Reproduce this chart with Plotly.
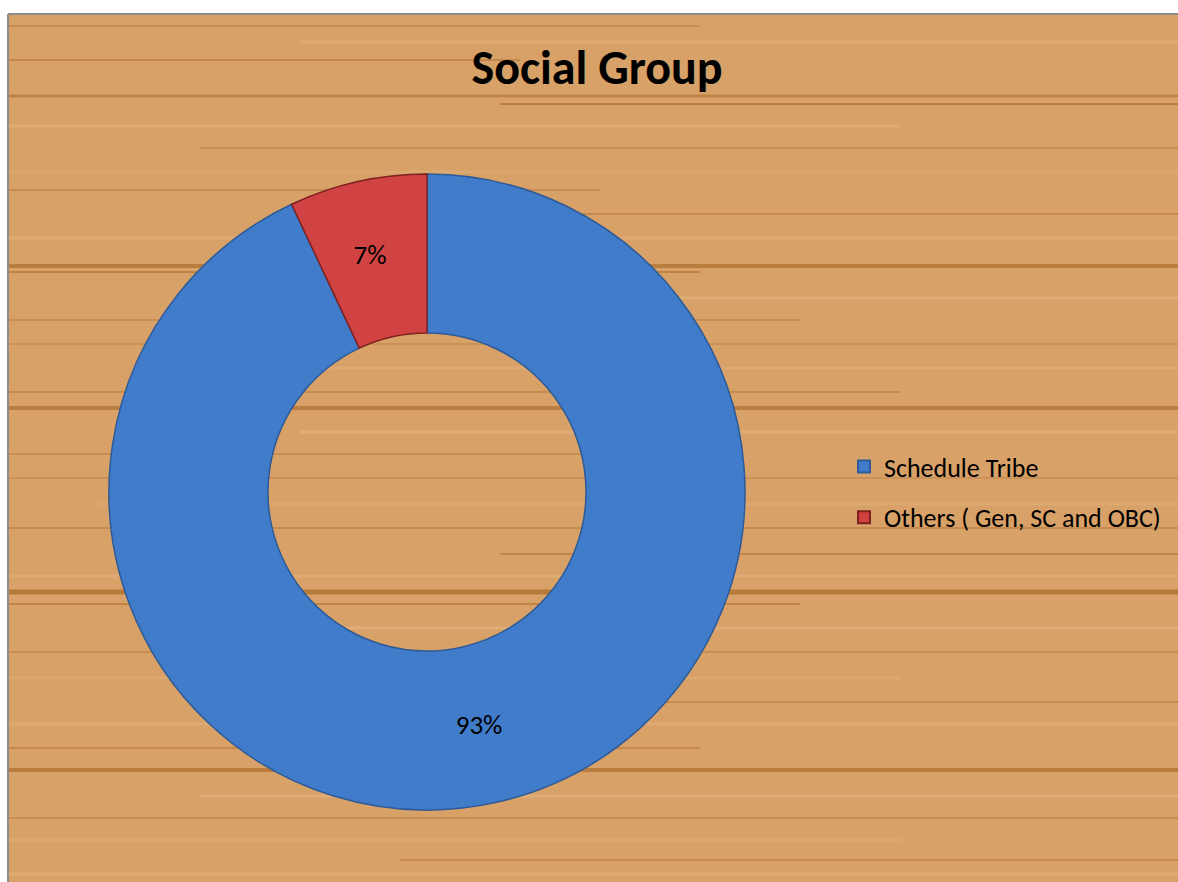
import plotly.graph_objects as go

groups = ['Schedule Tribe', 'Others ( Gen, SC and OBC)']
shares = [93, 7]
slice_colors = ['#417CCA', '#D14343']
edge_colors = ['#2D5A98', '#7E2020']

W, H = 1178, 882
cx, cy, r = 427, 492, 318   # donut centre / radius in pixels

fig = go.Figure()

fig.add_trace(go.Pie(labels=groups,
                     values=shares,
                     hole=0.5,
                     sort=False,
                     direction='clockwise',
                     rotation=0,
                     textinfo='percent',
                     texttemplate=['%{percent:.0%}', '&nbsp;<br>%{percent:.0%}'],
                     textposition='inside',
                     insidetextorientation='horizontal',
                     textfont=dict(family='Carlito, Lato', size=27, color='black'),
                     marker=dict(colors=slice_colors,
                                 line=dict(color=edge_colors, width=1.5)),
                     domain=dict(x=[(cx - r) / W, (cx + r) / W],
                                 y=[(H - cy - r) / H, (H - cy + r) / H]),
                     showlegend=False,
                     hoverinfo='label+percent'))

# legend entries (square swatches, Excel-style spacing)
for i, (g, c, e) in enumerate(zip(groups, slice_colors, edge_colors)):
    fig.add_trace(go.Scatter(x=[None], y=[None],
                             mode='markers',
                             marker=dict(symbol='square', size=13, color=c,
                                         line=dict(color=e, width=1)),
                             name=g,
                             legendgroup=f'g{i}'))

# wood-like background: base panel plus grain streaks
top = 1 - 14 / H
left = 8 / W
shapes = [dict(type='rect', xref='paper', yref='paper', x0=left, x1=1, y0=0, y1=top,
               fillcolor='#D8A168', line=dict(width=0), layer='below')]
grain = [(26, 8, 700, '#C78D52', 2), (42, 300, 1178, '#DDAA73', 3), (60, 8, 520, '#C28749', 2),
         (96, 8, 1178, '#C08546', 3), (104, 500, 1178, '#BA7E3F', 2), (126, 8, 900, '#DEAB75', 3),
         (148, 200, 1178, '#C88E52', 2), (172, 8, 1178, '#DCA972', 3), (190, 8, 600, '#C68C4F', 2),
         (214, 400, 1178, '#C4894B', 2), (238, 8, 1178, '#DDAA74', 3), (266, 8, 1178, '#B97D3E', 4),
         (272, 8, 700, '#BE8243', 2), (298, 300, 1178, '#DFAD77', 3), (320, 8, 800, '#C88E52', 2),
         (344, 8, 1178, '#CB9156', 2), (368, 200, 1178, '#DDAA73', 3), (392, 8, 900, '#C68C4F', 2),
         (408, 8, 1178, '#BA7E40', 4), (432, 300, 1178, '#DEAC76', 3), (454, 8, 700, '#C88E52', 2),
         (478, 8, 1178, '#CB9258', 2), (504, 100, 1178, '#DCA972', 3), (528, 8, 1178, '#C68C4F', 2),
         (554, 500, 1178, '#C2874A', 2), (576, 8, 1178, '#DDAA74', 3), (592, 8, 1178, '#B67B3B', 5),
         (604, 8, 800, '#C08546', 2), (628, 200, 1178, '#DFAD77', 3), (652, 8, 1178, '#C88E52', 2),
         (678, 8, 900, '#DBA870', 3), (702, 300, 1178, '#C68C4F', 2), (724, 8, 1178, '#DDAA73', 3),
         (748, 8, 700, '#C4894B', 2), (770, 8, 1178, '#B87D3E', 4), (796, 200, 1178, '#DEAC76', 3),
         (818, 8, 1178, '#C88E52', 2), (840, 8, 900, '#DCA972', 3), (860, 400, 1178, '#C4894B', 2),
         (874, 8, 1178, '#DDAA73', 3)]
for gy, gx0, gx1, gc, gw in grain:
    shapes.append(dict(type='line', xref='paper', yref='paper',
                       x0=gx0 / W, x1=gx1 / W,
                       y0=1 - gy / H, y1=1 - gy / H, layer='below',
                       line=dict(color=gc, width=gw)))
# grey frame on the visible left / top edges
shapes.append(dict(type='line', xref='paper', yref='paper', x0=left, x1=left,
                   y0=0, y1=top, layer='below', line=dict(color='#8C8C8C', width=2)))
shapes.append(dict(type='line', xref='paper', yref='paper', x0=left, x1=1,
                   y0=top, y1=top, layer='below', line=dict(color='#8C8C8C', width=2)))

fig.update_layout(width=W, height=H,
                  margin=dict(l=0, r=0, t=0, b=0),
                  paper_bgcolor='white',
                  plot_bgcolor='rgba(0,0,0,0)',
                  shapes=shapes,
                  xaxis=dict(visible=False),
                  yaxis=dict(visible=False),
                  title=dict(text='<b>Social Group</b>', x=597 / W, xanchor='center',
                             y=1 - 67 / H, yanchor='middle',
                             font=dict(family='Carlito, Lato', size=48, color='black')),
                  legend=dict(x=844 / W, xanchor='left', y=1 - cy / H, yanchor='middle',
                              font=dict(family='Carlito, Lato', size=26, color='black'),
                              bgcolor='rgba(0,0,0,0)', tracegroupgap=14,
                              itemwidth=30, itemsizing='constant'),
                  showlegend=True)

fig.write_html("out.html",
               config=dict(displayModeBar=False),
               post_script="document.body.style.margin='0';document.body.style.overflow='hidden';")
